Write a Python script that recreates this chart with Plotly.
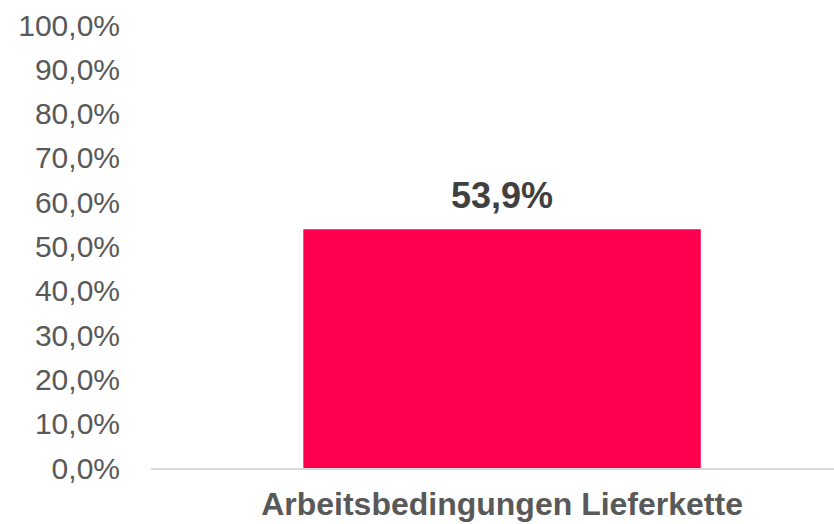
import plotly.graph_objects as go

categories = ["Arbeitsbedingungen Lieferkette"]
values = [53.9]
tick_values = [0, 10, 20, 30, 40, 50, 60, 70, 80, 90, 100]
tick_labels = ["0,0%", "10,0%", "20,0%", "30,0%", "40,0%", "50,0%",
               "60,0%", "70,0%", "80,0%", "90,0%", "100,0%"]

BAR_COLOR = "#FF0050"
FONT = "Liberation Sans, Arial, sans-serif"

fig = go.Figure()
fig.add_trace(go.Bar(
    x=categories, y=values,
    marker=dict(color=BAR_COLOR, line=dict(width=0)),
    width=0.582,
    hoverinfo="skip",
))

for c, v in zip(categories, values):
    fig.add_annotation(
        x=c, y=v, xref="x", yref="y",
        text="<b>" + f"{v:.1f}".replace(".", ",") + "%</b>",
        showarrow=False, yanchor="bottom", yshift=11,
        font=dict(family=FONT, size=36, color="#404040"),
    )

fig.update_layout(
    width=834, height=524,
    margin=dict(l=151, r=0, t=25, b=56),
    paper_bgcolor="white", plot_bgcolor="white",
    showlegend=False,
    font=dict(family=FONT),
)
fig.update_xaxes(
    range=[-0.514, 0.486],
    showgrid=False, zeroline=False,
    showline=True, linecolor="#D9D9D9", linewidth=2,
    ticks="",
    ticklabelstandoff=7,
    tickfont=dict(family=FONT, size=32, color="#595959", weight="bold"),
)
fig.update_yaxes(
    range=[0, 100],
    tickmode="array", tickvals=tick_values, ticktext=tick_labels,
    showgrid=False, zeroline=False, showline=False,
    ticks="",
    ticklabelstandoff=30,
    tickfont=dict(family=FONT, size=30, color="#595959"),
)

fig.write_html(
    "out.html",
    config={"displayModeBar": False},
    post_script="document.body.style.margin='0px';document.body.style.overflow='hidden';",
)
